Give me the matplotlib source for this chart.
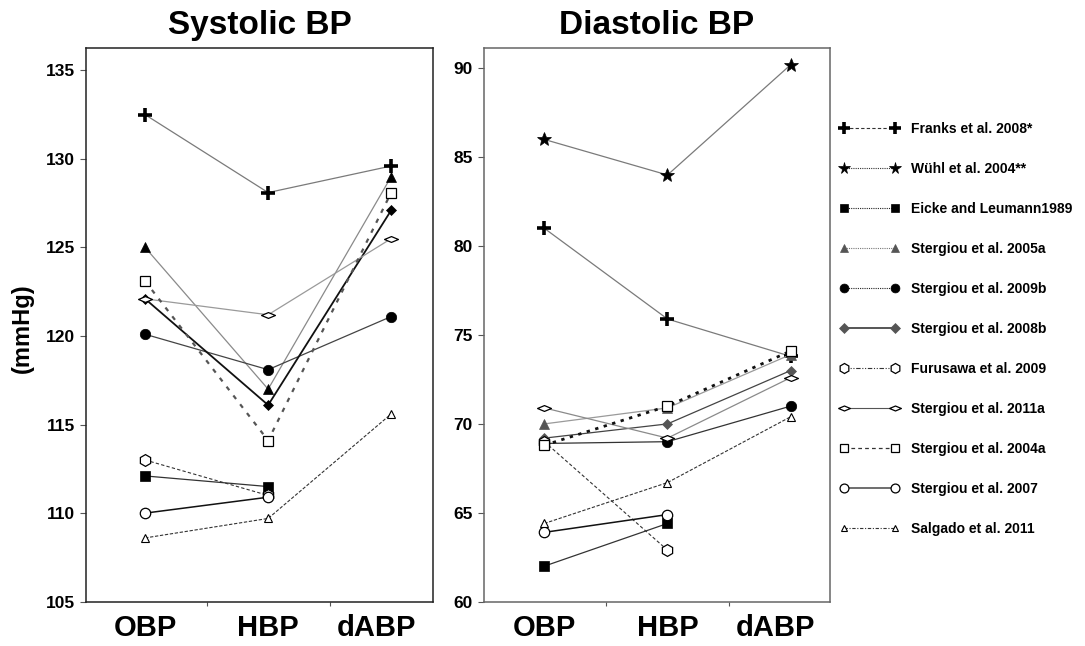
import numpy as np
import matplotlib
matplotlib.use("Agg")
from matplotlib import pyplot as plt
from matplotlib.lines import Line2D

# Measurement types on the x axis
measures = ['OBP', 'HBP', 'dABP']
nan = np.nan

# Study names, in legend order
studies = ['Franks et al. 2008*', 'Wühl et al. 2004**', 'Eicke and Leumann1989',
           'Stergiou et al. 2005a', 'Stergiou et al. 2009b', 'Stergiou et al. 2008b',
           'Furusawa et al. 2009', 'Stergiou et al. 2011a', 'Stergiou et al. 2004a',
           'Stergiou et al. 2007', 'Salgado et al. 2011']

# Systolic BP (mmHg): OBP, HBP, dABP
franks_sys = [132.5, 128.1, 129.6]
wuhl_sys = [nan, nan, nan]
eicke_sys = [112.1, 111.5, nan]
stergiou2005a_sys = [125.0, 117.0, 129.0]
stergiou2009b_sys = [120.1, 118.1, 121.1]
stergiou2008b_sys = [122.1, 116.1, 127.1]
furusawa_sys = [113.0, 111.0, nan]
stergiou2011a_sys = [122.1, 121.2, 125.5]
stergiou2004a_sys = [123.1, 114.1, 128.1]
stergiou2007_sys = [110.0, 110.9, nan]
salgado_sys = [108.6, 109.7, 115.6]

# Diastolic BP (mmHg): OBP, HBP, dABP
franks_dia = [81.0, 75.9, 73.8]
wuhl_dia = [86.0, 84.0, 90.2]
eicke_dia = [62.0, 64.4, nan]
stergiou2005a_dia = [70.0, 70.9, 73.9]
stergiou2009b_dia = [68.9, 69.0, 71.0]
stergiou2008b_dia = [69.2, 70.0, 73.0]
furusawa_dia = [69.0, 62.9, nan]
stergiou2011a_dia = [70.9, 69.2, 72.6]
stergiou2004a_dia = [68.8, 71.0, 74.1]
stergiou2007_dia = [63.9, 64.9, nan]
salgado_dia = [64.4, 66.7, 70.4]

systolic = [franks_sys, wuhl_sys, eicke_sys, stergiou2005a_sys, stergiou2009b_sys,
            stergiou2008b_sys, furusawa_sys, stergiou2011a_sys, stergiou2004a_sys,
            stergiou2007_sys, salgado_sys]
diastolic = [franks_dia, wuhl_dia, eicke_dia, stergiou2005a_dia, stergiou2009b_dia,
             stergiou2008b_dia, furusawa_dia, stergiou2011a_dia, stergiou2004a_dia,
             stergiou2007_dia, salgado_dia]

# Flat open diamond used for Stergiou 2011a
flat_diamond = [(-1, 0), (0, 0.42), (1, 0), (0, -0.42), (-1, 0)]

# Marker style of each study (same order as studies)
markers = [
    dict(marker='+', ms=10, mew=2.6, mfc='k', mec='k'),
    dict(marker='*', ms=10, mew=0.5, mfc='k', mec='k'),
    dict(marker='s', ms=6.5, mew=0.5, mfc='k', mec='k'),
    dict(marker='^', ms=7.5, mew=0.5, mfc='k', mec='k'),
    dict(marker='o', ms=7.5, mew=0.5, mfc='k', mec='k'),
    dict(marker='D', ms=5.5, mew=0.5, mfc='k', mec='k'),
    dict(marker='h', ms=8.5, mew=0.9, mfc='white', mec='k'),
    dict(marker=flat_diamond, ms=10, mew=0.9, mfc='white', mec='k'),
    dict(marker='s', ms=7.5, mew=0.9, mfc='white', mec='k'),
    dict(marker='o', ms=7.5, mew=0.9, mfc='white', mec='k'),
    dict(marker='^', ms=5.5, mew=0.8, mfc='white', mec='k'),
]

# Connecting line of each study in the systolic panel: colour, style, width
sys_lines = [
    ('#7a7a7a', '-', 0.9), ('#7a7a7a', '-', 0.9), ('#333333', '-', 0.9),
    ('#8a8a8a', '-', 0.9), ('#444444', '-', 0.9), ('#111111', '-', 1.3),
    ('#333333', (0, (3, 2)), 0.8), ('#9a9a9a', '-', 0.9), ('#555555', (0, (2, 3)), 1.6),
    ('#111111', '-', 1.1), ('#333333', (0, (3, 1.5)), 0.8),
]
# ... and in the diastolic panel
dia_lines = [
    ('#7a7a7a', '-', 0.9), ('#7a7a7a', '-', 0.9), ('#333333', '-', 0.9),
    ('#9a9a9a', '-', 0.9), ('#333333', '-', 0.9), ('#444444', '-', 0.9),
    ('#333333', (0, (3, 2)), 0.8), ('#8a8a8a', '-', 0.9), ('#111111', (0, (1.2, 2)), 2.0),
    ('#111111', '-', 1.1), ('#333333', (0, (3, 1.5)), 0.8),
]
# Grey markers used on the diastolic side for these studies
dia_grey = {3: '#555555', 5: '#555555'}

# Legend line style of each study
legend_lines = [
    ('#333333', (0, (3, 2)), 0.8), ('#333333', (0, (1, 1)), 0.8), ('#222222', (0, (1, 1)), 0.8),
    ('#777777', (0, (1, 1)), 0.8), ('#222222', (0, (1, 1)), 0.8), ('#555555', '-', 1.4),
    ('#333333', (0, (4, 1.5, 1, 1.5, 1, 1.5)), 0.8), ('#555555', '-', 0.8),
    ('#333333', (0, (3, 2.5)), 0.9), ('#555555', '-', 1.2), ('#333333', (0, (3, 1.5, 1, 1.5)), 0.8),
]

plt.rcParams['font.family'] = ['Liberation Sans', 'DejaVu Sans']
plt.rcParams['font.weight'] = 'bold'

fig = plt.figure(figsize=(10.85, 6.46), dpi=100)
ax1 = fig.add_axes([0.0793, 0.0686, 0.3198, 0.857])
ax2 = fig.add_axes([0.4461, 0.0686, 0.3189, 0.857])

x = np.arange(len(measures))

# Systolic panel
for i, vals in enumerate(systolic):
    col, ls, lw = sys_lines[i]
    ax1.plot(x, vals, color=col, linestyle=ls, linewidth=lw, **markers[i])

# Diastolic panel
for i, vals in enumerate(diastolic):
    col, ls, lw = dia_lines[i]
    mk = dict(markers[i])
    if i in dia_grey:
        mk['mfc'] = dia_grey[i]
        mk['mec'] = dia_grey[i]
    ax2.plot(x, vals, color=col, linestyle=ls, linewidth=lw, **mk)

# Axes cosmetics
for ax, title, spine_col in [(ax1, 'Systolic BP', '#222222'), (ax2, 'Diastolic BP', '#666666')]:
    ax.set_title(title, fontsize=24, fontweight='bold', pad=10)
    ax.set_xticks([0, 1, 1.88])
    ax.set_xticklabels(measures, fontsize=21, fontweight='bold')
    ax.tick_params(axis='x', which='major', length=0, pad=9)
    ax.set_xticks([0.5, 1.5], minor=True)
    ax.tick_params(axis='x', which='minor', length=3, width=0.8, color='#555555')
    ax.tick_params(axis='y', length=4, width=0.8, color='#555555', labelsize=12.5, pad=4)
    for sp in ax.spines.values():
        sp.set_color(spine_col)
        sp.set_linewidth(1.1)
    for lab in ax.get_yticklabels():
        lab.set_fontweight('bold')

ax1.set_xlim(-0.48, 2.34)
ax1.set_ylim(105, 136.26)
ax1.set_yticks([105, 110, 115, 120, 125, 130, 135])
ax2.set_xlim(-0.49, 2.32)
ax2.set_ylim(60, 91.14)
ax2.set_yticks([60, 65, 70, 75, 80, 85, 90])

fig.text(0.021, 0.492, '(mmHg)', rotation=90, ha='center', va='center',
         fontsize=17, fontweight='bold')

# Legend built from proxy handles
handles = []
for i, name in enumerate(studies):
    col, ls, lw = legend_lines[i]
    mk = dict(markers[i])
    if i in dia_grey:
        mk['mfc'] = dia_grey[i]
        mk['mec'] = dia_grey[i]
    mk['ms'] = mk['ms'] * 0.85
    handles.append(Line2D([], [], color=col, linestyle=ls, linewidth=lw, **mk))

fig.legend(handles, studies, loc='upper left', bbox_to_anchor=(0.774, 0.811),
           frameon=False, numpoints=2, handlelength=4.3,
           handletextpad=0.85, labelspacing=1.87, borderpad=0, borderaxespad=0,
           prop=dict(weight='bold', size=10))

plt.savefig('out.png', dpi=100)
